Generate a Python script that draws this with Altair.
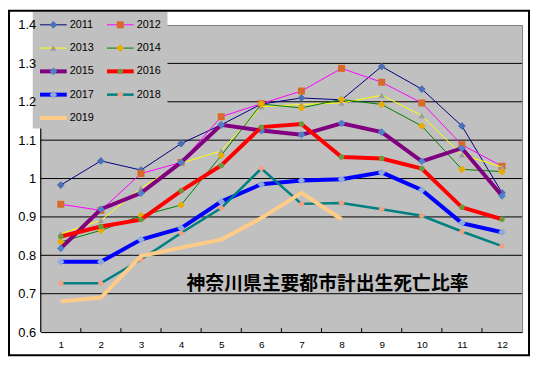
import altair as alt
import pandas as pd

# ---------------- data ----------------
months = list(range(1, 13))
years = ["2011", "2012", "2013", "2014", "2015", "2016", "2017", "2018", "2019"]

s2011 = [0.983, 1.046, 1.022, 1.091, 1.140, 1.194, 1.210, 1.205, 1.292, 1.233, 1.137, 0.963]
s2012 = [0.933, 0.917, 1.013, 1.042, 1.161, 1.195, 1.228, 1.287, 1.251, 1.197, 1.088, 1.032]
s2013 = [0.856, 0.891, 0.975, 1.040, 1.072, 1.187, 1.193, 1.197, 1.217, 1.164, 1.062, 1.030]
s2014 = [0.835, 0.865, 0.903, 0.931, 1.060, 1.194, 1.184, 1.206, 1.193, 1.137, 1.024, 1.018]
s2015 = [0.818, 0.920, 0.962, 1.042, 1.140, 1.125, 1.114, 1.144, 1.121, 1.045, 1.079, 0.955]
s2016 = [0.849, 0.875, 0.893, 0.968, 1.034, 1.134, 1.142, 1.056, 1.052, 1.026, 0.925, 0.894]
s2017 = [0.783, 0.783, 0.841, 0.871, 0.940, 0.985, 0.995, 0.998, 1.016, 0.970, 0.884, 0.860]
s2018 = [0.727, 0.727, 0.789, 0.858, 0.923, 1.026, 0.934, 0.936, 0.920, 0.903, 0.862, 0.824]
s2019 = [0.680, 0.690, 0.798, 0.820, 0.841, 0.897, 0.963, 0.894]
series = [s2011, s2012, s2013, s2014, s2015, s2016, s2017, s2018, s2019]

y_ticks = [0.6, 0.7, 0.8, 0.9, 1.0, 1.1, 1.2, 1.3, 1.4]
grid_vals = [0.7, 0.8, 0.9, 1.0, 1.1, 1.2, 1.3]
tick_bounds = [1.5, 2.5, 3.5, 4.5, 5.5, 6.5, 7.5, 8.5, 9.5, 10.5, 11.5]
title_text = "神奈川県主要都市計出生死亡比率"

# ---------------- styles ----------------
line_colors = ["#000080", "#FF00FF", "#FFFF00", "#008000", "#800080",
               "#FF0000", "#0000FF", "#008080", "#FFCC88"]
line_widths = [1, 1, 1, 1, 4, 4, 4, 2.5, 4]
marker_colors = ["#4A6FB5", "#D9692B", "#9C9C9C", "#E6AC00", "#4F81C8",
                 "#6B9A3C", "#8EA9DB", "#F2A083", None]
marker_shapes = ["diamond", "square", "triangle-up", "diamond", "diamond",
                 "circle", "diamond", "diamond", None]
marker_sizes = [60, 50, 40, 60, 60, 30, 60, 45, 0]

W, H = 486, 310
xscale = alt.Scale(domain=[0.5, 12.5], nice=False, zero=False)
yscale = alt.Scale(domain=[0.6, 1.4], nice=False, zero=False)

xaxis = alt.Axis(values=months, format="d", title=None, grid=False, ticks=False,
                 domainColor="black", domainWidth=1, labelFontSize=10,
                 labelPadding=8, labelFont="Liberation Sans", labelColor="black",
                 labelFlush=False, labelOverlap=False, zindex=0)
yaxis = alt.Axis(values=y_ticks, format="~g", title=None, grid=False, ticks=False,
                 domain=False, labelFontSize=13, labelPadding=5,
                 labelFont="Liberation Sans", labelColor="black",
                 labelFlush=False, labelOverlap=False, zindex=1)

X = alt.X("month:Q", scale=xscale, axis=xaxis)
Y = alt.Y("value:Q", scale=yscale, axis=yaxis)

one = pd.DataFrame({"a": [0]})
layers = []

# grid lines
layers.append(
    alt.Chart(pd.DataFrame({"value": grid_vals})).mark_rule(color="black", strokeWidth=1)
    .encode(y=Y, x=alt.value(0), x2=alt.value(W))
)
# y axis line
layers.append(
    alt.Chart(one).mark_rule(color="black", strokeWidth=1)
    .encode(x=alt.value(0), y=alt.value(0), y2=alt.value(H))
)
# inward x ticks at category boundaries
layers.append(
    alt.Chart(pd.DataFrame({"month": tick_bounds})).mark_rule(color="black", strokeWidth=1)
    .encode(x=X, y=alt.value(H), y2=alt.value(H - 4))
)

# legend box
layers.append(
    alt.Chart(one).mark_rect(fill="#C0C0C0", strokeWidth=0)
    .encode(x=alt.value(-8), x2=alt.value(128), y=alt.value(-13.5), y2=alt.value(104.5))
)

for i, yr in enumerate(years):
    r, c = divmod(i, 2)
    cy = -0.2 + 23.5 * r
    x0 = -0.7 + 67.6 * c
    ld = alt.Chart(pd.DataFrame({"year": [yr]}))
    layers.append(
        ld.mark_rule(color=line_colors[i], strokeWidth=line_widths[i])
        .encode(x=alt.value(x0), x2=alt.value(x0 + 27), y=alt.value(cy))
    )
    if marker_shapes[i]:
        layers.append(
            ld.mark_point(shape=marker_shapes[i], filled=True, color=marker_colors[i],
                          size=marker_sizes[i], opacity=1, strokeWidth=0)
            .encode(x=alt.value(x0 + 13.5), y=alt.value(cy))
        )
    layers.append(
        ld.mark_text(align="left", baseline="middle", fontSize=11,
                     font="Liberation Sans", color="black")
        .encode(x=alt.value(x0 + 30), y=alt.value(cy), text="year:N")
    )

# data series
for i, yr in enumerate(years):
    vals = series[i]
    d = pd.DataFrame({"month": months[:len(vals)], "value": vals})
    base = alt.Chart(d).encode(x=X, y=Y)
    layers.append(base.mark_line(color=line_colors[i], strokeWidth=line_widths[i]))
    if marker_shapes[i]:
        layers.append(
            base.mark_point(shape=marker_shapes[i], filled=True, color=marker_colors[i],
                            size=marker_sizes[i], opacity=1, strokeWidth=0)
        )

# in-plot title
layers.append(
    alt.Chart(pd.DataFrame({"t": [title_text]}))
    .mark_text(align="center", baseline="middle", fontSize=19, fontWeight="bold",
               font="Noto Sans CJK JP", color="black")
    .encode(x=alt.value(289.6), y=alt.value(261.5), text="t:N")
)

# outer frame
layers.append(
    alt.Chart(one).mark_rect(fill=None, stroke="black", strokeWidth=2)
    .encode(x=alt.value(-32), x2=alt.value(W + 7), y=alt.value(-14.5), y2=alt.value(H + 23.5))
)

chart = (
    alt.layer(*layers)
    .properties(width=W, height=H,
                padding={"left": 33, "top": 15.5, "right": 8, "bottom": 24.5},
                autosize=alt.AutoSizeParams(type="none"),
                background="white")
    .configure_view(fill="#C0C0C0", stroke="#808080", strokeWidth=1)
)

chart.save("out.html", embed_options={"renderer": "svg", "actions": False})
